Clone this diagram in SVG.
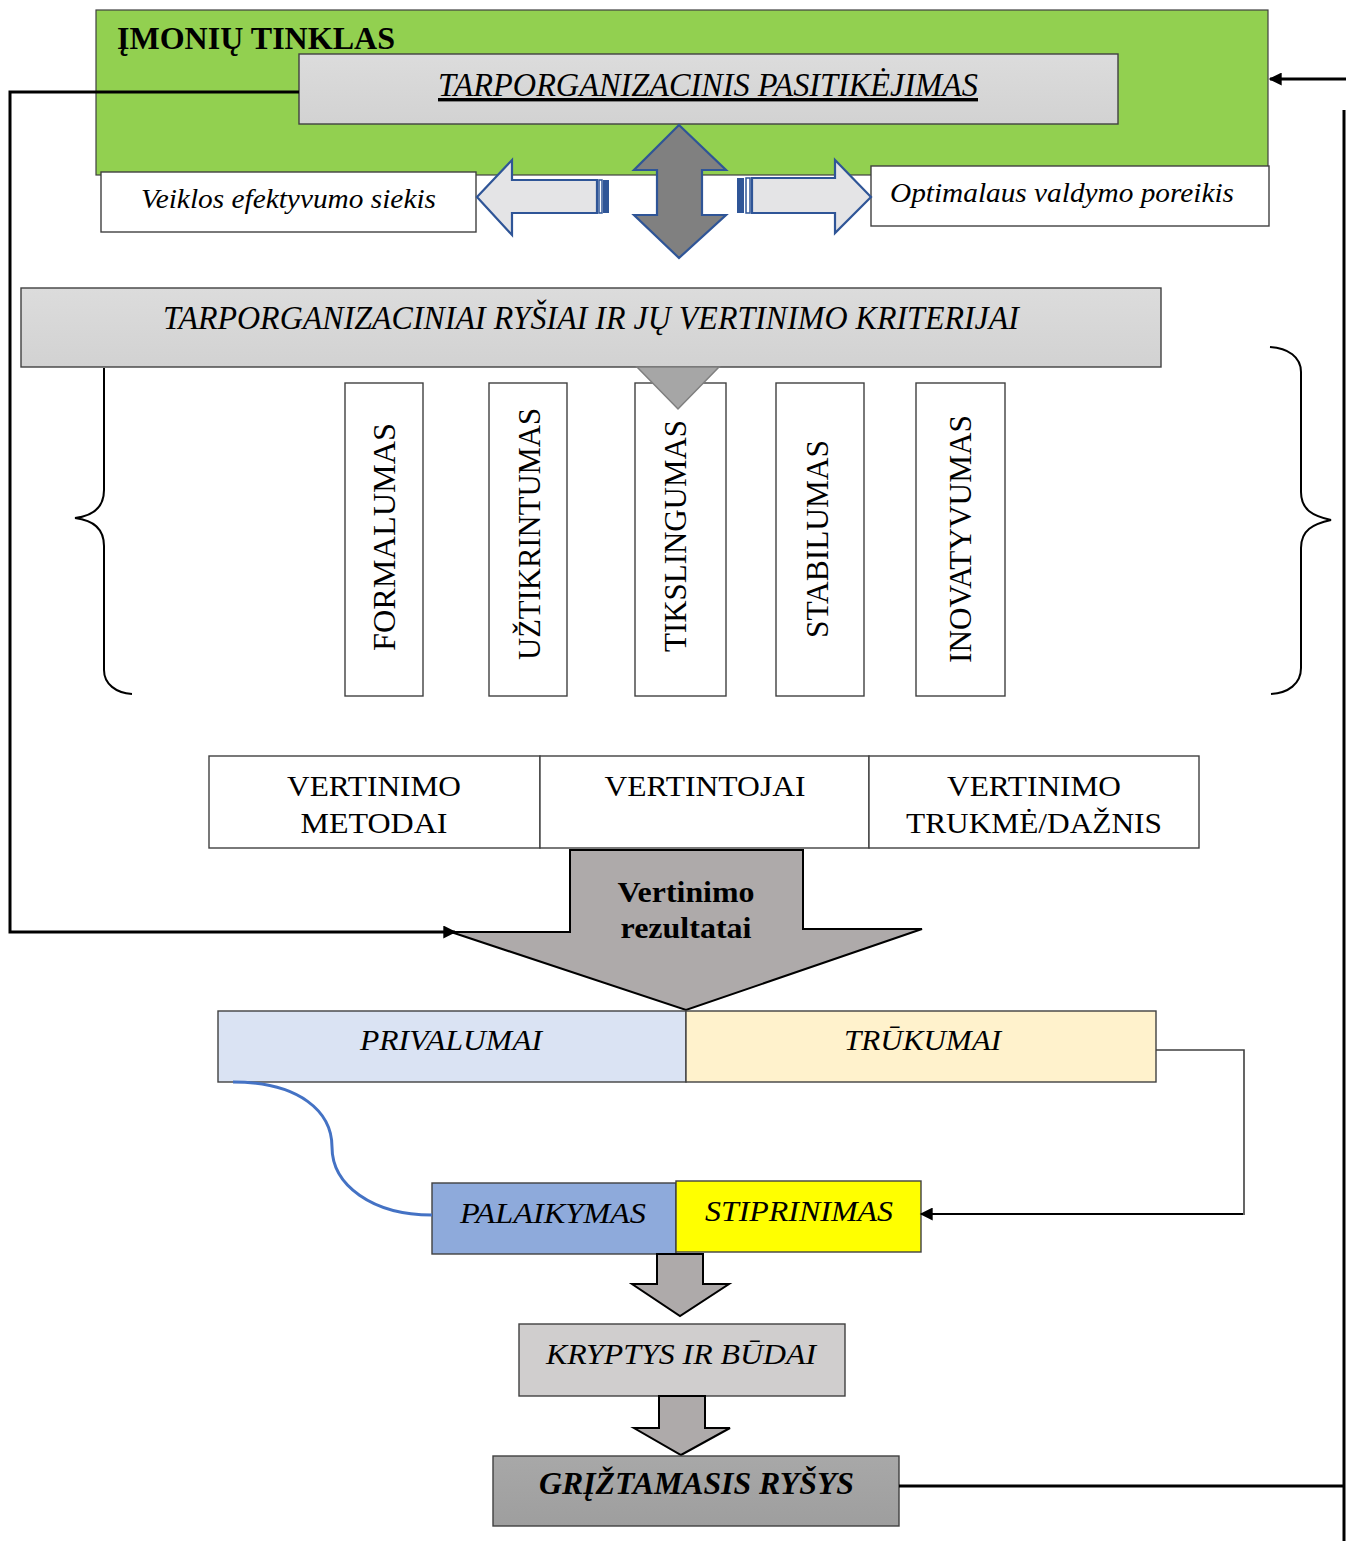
<svg xmlns="http://www.w3.org/2000/svg" width="1346" height="1541" viewBox="0 0 1346 1541">
  <defs>
    <style>
      .box { stroke: #404040; stroke-width: 1.4; }
      .serif { font-family: "Liberation Serif", "Times New Roman", serif; fill: #000; }
      .it { font-style: italic; }
      .b { font-weight: bold; }
      .lbl { font-size: 30px; }
      .vert { font-size: 31px; text-anchor: middle; }
      .mid { text-anchor: middle; }
      .wire { fill: none; stroke: #000; stroke-width: 3; }
      .thin { fill: none; stroke: #404040; stroke-width: 1.6; }
      .blockgray { fill: #aeaaaa; stroke: #000; stroke-width: 2; stroke-linejoin: miter; }
      .sidearrow { fill: #e4e4e6; stroke: #2f5597; stroke-width: 2.2; }
    </style>
    <marker id="head" viewBox="0 0 10 10" refX="9" refY="5" markerWidth="15" markerHeight="13" markerUnits="userSpaceOnUse" orient="auto">
      <path d="M0,0 L10,5 L0,10 z" fill="#000"/>
    </marker>
    <linearGradient id="greyFill" x1="0" y1="0" x2="0" y2="1">
      <stop offset="0" stop-color="#dcdcdc"/>
      <stop offset="1" stop-color="#d2d2d2"/>
    </linearGradient>
    <linearGradient id="darkFill" x1="0" y1="0" x2="0" y2="1">
      <stop offset="0" stop-color="#a8a8a8"/>
      <stop offset="1" stop-color="#9e9e9e"/>
    </linearGradient>
  </defs>

  <!-- network frame -->
  <g id="network">
    <rect x="96" y="10" width="1172" height="165" fill="#92d050" stroke="#404040" stroke-width="1.2"/>
    <text class="serif b" x="117" y="49" font-size="31" textLength="278" lengthAdjust="spacingAndGlyphs">ĮMONIŲ TINKLAS</text>
  </g>

  <g id="trust">
    <rect class="box" x="299" y="54" width="819" height="70" fill="url(#greyFill)"/>
    <text class="serif it" x="438" y="96" font-size="34" text-decoration="underline" textLength="540" lengthAdjust="spacingAndGlyphs">TARPORGANIZACINIS PASITIKĖJIMAS</text>
  </g>

  <g id="efficiency">
    <rect class="box" x="101" y="172" width="375" height="60" fill="#fff"/>
    <text class="serif it" x="141" y="208" font-size="28" textLength="295" lengthAdjust="spacingAndGlyphs">Veiklos efektyvumo siekis</text>
  </g>

  <g id="management">
    <rect class="box" x="871" y="166" width="398" height="60" fill="#fff"/>
    <text class="serif it" x="890" y="202" font-size="28" textLength="344" lengthAdjust="spacingAndGlyphs">Optimalaus valdymo poreikis</text>
  </g>

  <!-- block arrows around the trust box -->
  <g id="trust-arrows">
    <polygon points="679,125 726,170 702,170 702,215 726,215 679,258 634,215 657,215 657,170 634,170" fill="#808080" stroke="#2f5597" stroke-width="2.2"/>
    <polygon class="sidearrow" points="477,197 512,160 512,180 597,180 597,213 512,213 512,235"/>
    <rect x="599" y="180" width="3" height="33" fill="#fff" stroke="#2f5597" stroke-width="1.5"/>
    <rect x="603" y="180" width="6" height="33" fill="#2f5597"/>
    <polygon class="sidearrow" points="871,197 835,160 835,178 752,178 752,213 835,213 835,233"/>
    <rect x="737" y="178" width="7" height="35" fill="#2f5597"/>
    <rect x="746" y="178" width="4" height="35" fill="#fff" stroke="#2f5597" stroke-width="1.5"/>
  </g>

  <!-- relations and criteria -->
  <g id="relations">
    <rect class="box" x="21" y="288" width="1140" height="79" fill="url(#greyFill)"/>
    <text class="serif it" x="163" y="329" font-size="33" textLength="856" lengthAdjust="spacingAndGlyphs">TARPORGANIZACINIAI RYŠIAI IR JŲ VERTINIMO KRITERIJAI</text>
  </g>

  <g id="formalumas">
    <rect class="box" x="345" y="383" width="78" height="313" fill="#fff"/>
    <text class="serif vert" transform="translate(395,537) rotate(-90)" textLength="228" lengthAdjust="spacingAndGlyphs">FORMALUMAS</text>
  </g>
  <g id="uztikrintumas">
    <rect class="box" x="489" y="383" width="78" height="313" fill="#fff"/>
    <text class="serif vert" transform="translate(540,534) rotate(-90)" textLength="252" lengthAdjust="spacingAndGlyphs">UŽTIKRINTUMAS</text>
  </g>
  <g id="tikslingumas">
    <rect class="box" x="635" y="383" width="91" height="313" fill="#fff"/>
    <text class="serif vert" transform="translate(686,536) rotate(-90)" textLength="232" lengthAdjust="spacingAndGlyphs">TIKSLINGUMAS</text>
  </g>
  <g id="stabilumas">
    <rect class="box" x="776" y="383" width="88" height="313" fill="#fff"/>
    <text class="serif vert" transform="translate(828,539) rotate(-90)" textLength="198" lengthAdjust="spacingAndGlyphs">STABILUMAS</text>
  </g>
  <g id="inovatyvumas">
    <rect class="box" x="916" y="383" width="89" height="313" fill="#fff"/>
    <text class="serif vert" transform="translate(971,539) rotate(-90)" textLength="248" lengthAdjust="spacingAndGlyphs">INOVATYVUMAS</text>
  </g>

  <!-- head of the arrow from the relations bar -->
  <polygon id="relations-head" points="637,367 719,367 678,409" fill="#a6a6a6" stroke="#7f7f7f" stroke-width="1.5"/>

  <!-- braces grouping the criteria -->
  <g id="braces" fill="none" stroke="#000" stroke-width="2">
    <path d="M104,368 L104,490 C104,508 92,516 75,518 C92,520 104,528 104,546 L104,670 C104,684 116,693 132,694"/>
    <path d="M1270,347 C1288,348 1301,357 1301,372 L1301,492 C1301,510 1313,516 1331,520 C1313,524 1301,530 1301,548 L1301,668 C1301,684 1288,693 1271,694"/>
  </g>

  <!-- assessment parameters -->
  <g id="methods">
    <rect class="box" x="209" y="756" width="331" height="92" fill="#fff"/>
    <text class="serif lbl mid" x="374" y="796" textLength="174" lengthAdjust="spacingAndGlyphs">VERTINIMO</text>
    <text class="serif lbl mid" x="374" y="833" textLength="147" lengthAdjust="spacingAndGlyphs">METODAI</text>
  </g>
  <g id="assessors">
    <rect class="box" x="540" y="756" width="329" height="92" fill="#fff"/>
    <text class="serif lbl mid" x="705" y="796" textLength="201" lengthAdjust="spacingAndGlyphs">VERTINTOJAI</text>
  </g>
  <g id="duration">
    <rect class="box" x="869" y="756" width="330" height="92" fill="#fff"/>
    <text class="serif lbl mid" x="1034" y="796" textLength="174" lengthAdjust="spacingAndGlyphs">VERTINIMO</text>
    <text class="serif lbl mid" x="1034" y="833" textLength="256" lengthAdjust="spacingAndGlyphs">TRUKMĖ/DAŽNIS</text>
  </g>

  <!-- results arrow -->
  <g id="results">
    <polygon class="blockgray" points="570,850 803,850 803,929 922,929 686,1010 451,932 570,932"/>
    <text class="serif b lbl mid" x="686" y="902" textLength="137" lengthAdjust="spacingAndGlyphs">Vertinimo</text>
    <text class="serif b lbl mid" x="686" y="938" textLength="131" lengthAdjust="spacingAndGlyphs">rezultatai</text>
  </g>

  <g id="privalumai">
    <rect class="box" x="218" y="1011" width="468" height="71" fill="#dae3f3"/>
    <text class="serif it lbl" x="360" y="1050" font-size="31" textLength="182" lengthAdjust="spacingAndGlyphs">PRIVALUMAI</text>
  </g>
  <g id="trukumai">
    <rect class="box" x="686" y="1011" width="470" height="71" fill="#fff2cc"/>
    <text class="serif it lbl" x="844" y="1050" font-size="31" textLength="157" lengthAdjust="spacingAndGlyphs">TRŪKUMAI</text>
  </g>

  <g id="palaikymas">
    <rect class="box" x="432" y="1183" width="244" height="71" fill="#8eaadb"/>
    <text class="serif it lbl" x="460" y="1223" font-size="31" textLength="186" lengthAdjust="spacingAndGlyphs">PALAIKYMAS</text>
  </g>
  <g id="stiprinimas">
    <rect class="box" x="676" y="1181" width="245" height="71" fill="#ffff00"/>
    <text class="serif it lbl" x="705" y="1221" font-size="31" textLength="188" lengthAdjust="spacingAndGlyphs">STIPRINIMAS</text>
  </g>

  <polygon id="arrow-to-directions" class="blockgray" points="657,1254 703,1254 703,1284 729,1284 680,1316 632,1284 657,1284"/>

  <g id="directions">
    <rect class="box" x="519" y="1324" width="326" height="72" fill="#d0cece"/>
    <text class="serif it" x="546" y="1364" font-size="30" textLength="270" lengthAdjust="spacingAndGlyphs">KRYPTYS IR BŪDAI</text>
  </g>

  <polygon id="arrow-to-feedback" class="blockgray" points="659,1396 705,1396 705,1428 730,1428 681,1455 634,1428 659,1428"/>

  <g id="feedback">
    <rect class="box" x="493" y="1456" width="406" height="70" fill="url(#darkFill)"/>
    <text class="serif b it" x="539" y="1494" font-size="32" textLength="315" lengthAdjust="spacingAndGlyphs">GRĮŽTAMASIS RYŠYS</text>
  </g>

  <!-- connectors -->
  <g id="connectors">
    <polyline class="wire" points="299,92 10,92 10,932 455,932" marker-end="url(#head)"/>
    <line class="wire" x1="1346" y1="79" x2="1270" y2="79" marker-end="url(#head)"/>
    <line class="wire" x1="1344" y1="110" x2="1344" y2="1541"/>
    <line class="wire" x1="899" y1="1486" x2="1344" y2="1486" stroke-width="2.5"/>
    <polyline class="thin" points="1156,1050 1244,1050 1244,1215"/>
    <line x1="1243" y1="1214" x2="921" y2="1214" stroke="#000" stroke-width="2" marker-end="url(#head)"/>
    <path d="M233,1082 C300,1082 332,1112 332,1147 C332,1185 372,1215 432,1215" fill="none" stroke="#4472c4" stroke-width="3"/>
  </g>
</svg>
